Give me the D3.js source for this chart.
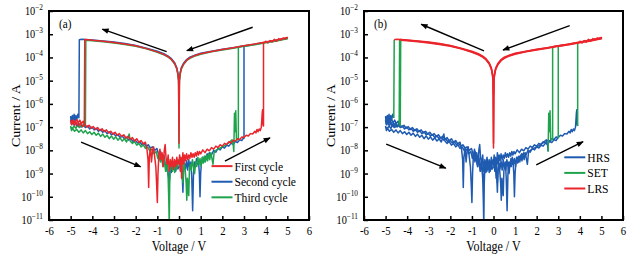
<!DOCTYPE html>
<html><head><meta charset="utf-8">
<script src="https://cdn.jsdelivr.net/npm/d3@7"></script>
<style>body{margin:0;background:#fff} text{font-family:"Liberation Serif","Times New Roman",serif}</style>
</head><body>
<svg id="c" width="638" height="256"></svg>
<script>
// ---------- data ----------
const xTicks = [-6,-5,-4,-3,-2,-1,0,1,2,3,4,5,6];
const yTickExponents = [-2,-3,-4,-5,-6,-7,-8,-9,-10,-11];
const cycleNames = ["First cycle","Second cycle","Third cycle"];
const stateNames = ["HRS","SET","LRS"];
const panelLabels = ["(a)","(b)"];

// pairs: [voltage V, log10(current / A)]
const c1HrsPos = [[0.0,-8.5],[0.03,-8.2],[0.06,-8.9],[0.09,-8.3],[0.12,-9.2],[0.15,-8.5],[0.18,-8.1],[0.22,-8.6],[0.26,-8.2],[0.3,-8.45],[0.35,-8.15],[0.4,-8.4],[0.45,-8.2],[0.5,-8.35],[0.55,-8.1],[0.6,-8.3],[0.65,-8.15],[0.7,-8.3],[0.75,-8.1],[0.8,-8.25],[0.85,-8.05],[0.9,-8.2],[0.95,-8.05],[1.0,-8.15],[1.1,-7.98],[1.2,-8.1],[1.3,-7.95],[1.4,-8.02],[1.5,-7.88],[1.6,-7.95],[1.7,-7.82],[1.8,-7.88],[1.9,-7.76],[2.0,-7.82],[2.1,-7.7],[2.2,-7.75],[2.3,-7.63],[2.4,-7.68],[2.5,-7.57],[2.6,-7.6],[2.7,-7.5],[2.8,-7.53],[2.9,-7.43],[3.0,-7.45],[3.1,-7.35],[3.2,-7.38],[3.3,-7.28],[3.4,-7.3],[3.5,-7.18],[3.55,-7.25],[3.6,-7.1],[3.65,-7.2],[3.7,-7.08],[3.75,-7.15],[3.8,-7.0],[3.84,-6.4],[3.86,-6.25],[3.88,-6.9],[3.9,-6.95]];
const c1Set = [[3.9,-6.95],[3.9,-3.39]];
const c1Lrs = [[3.9,-3.39],[4.0,-3.3],[4.1,-3.38],[4.2,-3.27],[4.3,-3.34],[4.4,-3.22],[4.5,-3.3],[4.6,-3.19],[4.7,-3.25],[4.8,-3.16],[4.9,-3.21],[5.0,-3.14],[4.5,-3.25],[4.0,-3.33],[3.5,-3.42],[3.0,-3.5],[2.5,-3.58],[2.0,-3.66],[1.5,-3.74],[1.0,-3.84],[0.7,-3.93],[0.5,-4.02],[0.35,-4.12],[0.2,-4.3],[0.1,-4.5],[0.05,-4.72],[0.02,-4.98],[0.0,-7.7],[-0.02,-4.98],[-0.05,-4.72],[-0.1,-4.48],[-0.2,-4.26],[-0.35,-4.08],[-0.5,-3.97],[-0.7,-3.87],[-1.0,-3.76],[-1.5,-3.62],[-2.0,-3.5],[-2.5,-3.42],[-3.0,-3.36],[-3.5,-3.3],[-4.0,-3.26],[-4.2,-3.24],[-4.35,-3.23]];
const c1Reset = [[-4.35,-3.23],[-4.37,-6.9]];
const c1HrsNeg = [[-4.37,-6.9],[-4.42,-6.75],[-4.5,-6.85],[-4.58,-6.7],[-4.65,-6.82],[-4.72,-6.68],[-4.8,-6.8],[-4.88,-6.7],[-4.95,-6.78],[-5.0,-6.72],[-4.96,-6.9],[-4.9,-6.78],[-4.82,-6.92],[-4.75,-6.8],[-4.65,-6.95],[-4.55,-6.83],[-4.45,-6.98],[-4.35,-6.88],[-4.25,-7.0],[-4.15,-6.92],[-4.05,-7.05],[-3.95,-6.98],[-3.85,-7.1],[-3.75,-7.02],[-3.65,-7.15],[-3.55,-7.07],[-3.45,-7.2],[-3.35,-7.12],[-3.25,-7.25],[-3.15,-7.18],[-3.05,-7.3],[-2.95,-7.22],[-2.85,-7.35],[-2.75,-7.28],[-2.65,-7.4],[-2.55,-7.33],[-2.45,-7.47],[-2.35,-7.4],[-2.25,-7.52],[-2.15,-7.45],[-2.05,-7.6],[-1.95,-7.5],[-1.85,-7.66],[-1.75,-7.58],[-1.65,-7.72],[-1.55,-7.65],[-1.48,-7.95],[-1.43,-8.4],[-1.4,-9.6],[-1.37,-8.3],[-1.32,-7.9],[-1.27,-8.5],[-1.22,-8.0],[-1.17,-7.85],[-1.12,-8.3],[-1.07,-8.7],[-1.03,-9.5],[-1.0,-10.25],[-0.97,-9.0],[-0.93,-8.2],[-0.88,-7.95],[-0.83,-8.4],[-0.78,-8.1],[-0.73,-8.7],[-0.68,-8.0],[-0.64,-7.75],[-0.6,-8.3],[-0.55,-8.6],[-0.5,-8.2],[-0.45,-8.9],[-0.4,-8.4],[-0.35,-8.7],[-0.3,-8.3],[-0.25,-8.8],[-0.2,-8.4],[-0.15,-8.7],[-0.1,-8.3],[-0.05,-8.6],[0.0,-8.5]];

const c2HrsPos = [[0.0,-8.7],[0.04,-8.45],[0.08,-8.9],[0.12,-8.6],[0.15,-9.1],[0.18,-9.8],[0.21,-8.9],[0.25,-8.55],[0.3,-8.8],[0.35,-8.45],[0.4,-8.85],[0.45,-8.4],[0.5,-8.75],[0.55,-8.5],[0.59,-9.2],[0.63,-10.6],[0.67,-9.0],[0.71,-8.5],[0.76,-8.7],[0.81,-8.35],[0.86,-8.6],[0.9,-8.45],[0.94,-9.0],[0.97,-10.0],[1.0,-9.0],[1.04,-8.5],[1.1,-8.3],[1.15,-8.5],[1.2,-8.25],[1.25,-8.4],[1.3,-8.15],[1.35,-8.3],[1.4,-8.1],[1.5,-8.2],[1.6,-8.0],[1.7,-8.08],[1.8,-7.92],[1.9,-7.98],[2.0,-7.85],[2.1,-7.9],[2.2,-7.78],[2.3,-7.82],[2.4,-7.7],[2.5,-7.74],[2.6,-7.62],[2.7,-7.66],[2.8,-7.55],[2.9,-7.58],[2.95,-7.5],[3.0,-7.48]];
const c2Set = [[3.0,-7.48],[3.0,-3.52]];
const c2Lrs = [[3.0,-3.52],[3.3,-3.47],[3.6,-3.41],[4.0,-3.34],[4.4,-3.27],[4.7,-3.22],[5.0,-3.17],[4.5,-3.26],[4.0,-3.35],[3.5,-3.43],[3.0,-3.51],[2.5,-3.58],[2.0,-3.65],[1.5,-3.73],[1.0,-3.82],[0.7,-3.91],[0.5,-3.99],[0.35,-4.09],[0.2,-4.26],[0.1,-4.46],[0.05,-4.68],[0.02,-4.95],[0.0,-5.6],[-0.02,-4.95],[-0.05,-4.68],[-0.1,-4.45],[-0.2,-4.23],[-0.35,-4.05],[-0.5,-3.94],[-0.7,-3.84],[-1.0,-3.73],[-1.5,-3.6],[-2.0,-3.49],[-2.5,-3.4],[-3.0,-3.34],[-3.5,-3.29],[-4.0,-3.25],[-4.3,-3.23],[-4.5,-3.22],[-4.6,-3.24]];
const c2Reset = [[-4.6,-3.24],[-4.62,-6.6]];
const c2HrsNeg = [[-4.62,-6.6],[-4.67,-6.45],[-4.72,-6.7],[-4.76,-6.5],[-4.8,-6.75],[-4.84,-6.45],[-4.88,-6.68],[-4.92,-6.5],[-4.96,-6.7],[-5.0,-6.55],[-4.97,-6.85],[-4.93,-6.65],[-4.88,-6.9],[-4.8,-6.75],[-4.72,-6.95],[-4.62,-6.85],[-4.52,-7.0],[-4.42,-6.9],[-4.32,-7.02],[-4.22,-6.95],[-4.12,-7.08],[-4.02,-7.0],[-3.92,-7.12],[-3.82,-7.05],[-3.72,-7.18],[-3.62,-7.1],[-3.52,-7.22],[-3.42,-7.15],[-3.32,-7.28],[-3.22,-7.2],[-3.12,-7.33],[-3.02,-7.27],[-2.92,-7.38],[-2.82,-7.32],[-2.72,-7.45],[-2.62,-7.38],[-2.52,-7.5],[-2.42,-7.44],[-2.32,-7.56],[-2.22,-7.5],[-2.12,-7.62],[-2.02,-7.56],[-1.92,-7.68],[-1.82,-7.62],[-1.72,-7.75],[-1.62,-7.7],[-1.52,-7.82],[-1.42,-7.76],[-1.32,-7.9],[-1.22,-7.85],[-1.12,-8.0],[-1.02,-7.92],[-0.95,-8.15],[-0.9,-8.4],[-0.85,-8.05],[-0.8,-8.3],[-0.75,-8.6],[-0.7,-8.2],[-0.65,-8.5],[-0.6,-8.9],[-0.55,-8.4],[-0.5,-9.0],[-0.45,-9.35],[-0.4,-8.7],[-0.35,-8.95],[-0.3,-8.5],[-0.25,-8.8],[-0.2,-8.45],[-0.15,-8.9],[-0.1,-8.6],[-0.05,-8.8],[0.0,-8.7]];

const c3HrsPos = [[0.0,-8.4],[0.04,-8.7],[0.08,-8.45],[0.12,-8.95],[0.15,-9.1],[0.18,-9.4],[0.21,-8.8],[0.25,-8.55],[0.29,-8.9],[0.33,-9.4],[0.36,-10.15],[0.39,-9.2],[0.42,-9.7],[0.45,-9.95],[0.48,-8.9],[0.52,-8.6],[0.57,-8.85],[0.62,-8.4],[0.67,-8.7],[0.72,-9.0],[0.77,-8.5],[0.82,-8.7],[0.87,-8.3],[0.92,-8.6],[0.97,-8.35],[1.02,-8.7],[1.07,-8.3],[1.12,-8.55],[1.17,-8.25],[1.22,-8.5],[1.27,-8.2],[1.32,-8.45],[1.37,-8.15],[1.42,-8.4],[1.47,-8.1],[1.52,-8.35],[1.57,-8.6],[1.62,-8.1],[1.7,-8.0],[1.8,-7.95],[1.9,-7.9],[2.0,-7.84],[2.1,-7.8],[2.2,-7.74],[2.3,-7.68],[2.38,-7.6],[2.45,-7.55],[2.5,-7.75],[2.53,-8.05]];
const c3Set = [[2.53,-8.05],[2.56,-6.4],[2.58,-7.2],[2.62,-6.3],[2.65,-7.5],[2.7,-7.55],[2.74,-7.5],[2.74,-3.54]];
const c3Lrs = [[2.74,-3.54],[3.0,-3.5],[3.5,-3.44],[4.0,-3.36],[4.5,-3.28],[4.8,-3.23],[5.0,-3.2],[4.5,-3.29],[4.0,-3.37],[3.5,-3.45],[3.0,-3.52],[2.5,-3.6],[2.0,-3.68],[1.5,-3.76],[1.0,-3.86],[0.7,-3.95],[0.5,-4.04],[0.35,-4.14],[0.2,-4.32],[0.1,-4.52],[0.05,-4.75],[0.02,-5.0],[0.0,-7.9],[-0.02,-5.0],[-0.05,-4.75],[-0.1,-4.5],[-0.2,-4.28],[-0.35,-4.1],[-0.5,-3.99],[-0.7,-3.89],[-1.0,-3.78],[-1.5,-3.63],[-2.0,-3.52],[-2.5,-3.44],[-3.0,-3.38],[-3.5,-3.32],[-4.0,-3.28],[-4.3,-3.26]];
const c3Reset = [[-4.3,-3.26],[-4.32,-6.95]];
const c3HrsNeg = [[-4.32,-6.95],[-4.38,-6.85],[-4.45,-6.98],[-4.52,-6.9],[-4.6,-7.02],[-4.68,-6.92],[-4.76,-7.05],[-4.84,-6.95],[-4.92,-7.06],[-5.0,-6.98],[-4.96,-7.15],[-4.9,-7.05],[-4.82,-7.18],[-4.72,-7.1],[-4.62,-7.22],[-4.52,-7.12],[-4.42,-7.25],[-4.32,-7.15],[-4.22,-7.28],[-4.12,-7.2],[-4.02,-7.32],[-3.92,-7.22],[-3.82,-7.35],[-3.72,-7.26],[-3.62,-7.4],[-3.52,-7.3],[-3.42,-7.44],[-3.32,-7.35],[-3.22,-7.5],[-3.12,-7.38],[-3.02,-7.52],[-2.92,-7.42],[-2.82,-7.56],[-2.72,-7.46],[-2.62,-7.6],[-2.52,-7.5],[-2.42,-7.64],[-2.35,-7.45],[-2.3,-7.3],[-2.25,-7.6],[-2.15,-7.7],[-2.05,-7.62],[-1.95,-7.78],[-1.85,-7.7],[-1.75,-7.85],[-1.65,-7.76],[-1.55,-7.92],[-1.45,-7.85],[-1.35,-8.02],[-1.25,-7.95],[-1.15,-8.15],[-1.05,-8.05],[-0.98,-8.35],[-0.92,-8.15],[-0.86,-8.5],[-0.8,-8.25],[-0.74,-8.7],[-0.68,-8.35],[-0.62,-8.9],[-0.56,-8.5],[-0.5,-9.2],[-0.47,-10.2],[-0.45,-11.3],[-0.43,-9.5],[-0.4,-8.7],[-0.35,-8.5],[-0.3,-8.9],[-0.25,-8.55],[-0.2,-8.95],[-0.15,-8.5],[-0.1,-8.8],[-0.05,-8.45],[0.0,-8.4]];

// arrows: [V1, logI1, V2, logI2] (head at second point)
const arrowsA = [[-0.57,-3.75,-3.54,-2.78],[3.40,-2.70,0.36,-3.71],[-4.52,-7.65,-1.77,-8.71],[2.12,-8.46,4.20,-7.46]];
const arrowsB = [[-0.44,-3.72,-3.35,-2.57],[3.53,-2.63,0.44,-3.68],[-4.97,-7.73,-2.21,-8.77],[1.98,-8.63,4.15,-7.63]];

// ---------- style ----------
const RED="#ea252b", BLUE="#1f5bb0", GREEN="#1fa34c";
const cycleColors=[RED,BLUE,GREEN];
const FONT="'Liberation Serif','Times New Roman',serif";
const SX=0.86;

const cycles=[
 {hrsPos:c1HrsPos,set:c1Set,lrs:c1Lrs,reset:c1Reset,hrsNeg:c1HrsNeg},
 {hrsPos:c2HrsPos,set:c2Set,lrs:c2Lrs,reset:c2Reset,hrsNeg:c2HrsNeg},
 {hrsPos:c3HrsPos,set:c3Set,lrs:c3Lrs,reset:c3Reset,hrsNeg:c3HrsNeg}
];

const svg=d3.select("#c");
svg.append("rect").attr("width",638).attr("height",256).attr("fill","#fff");
const defs=svg.append("defs");
defs.append("marker").attr("id","ah").attr("viewBox","0 0 10 10").attr("refX",9).attr("refY",5)
 .attr("markerUnits","userSpaceOnUse").attr("markerWidth",9).attr("markerHeight",7).attr("orient","auto")
 .append("path").attr("d","M0,1 L10,5 L0,9 Z").attr("fill","#000");

const y=d3.scaleLog().domain([1e-11,1e-2]).range([220,11]);

function txt(g,x,yy,str,size,anchor,rot){
  const sc = rot ? `rotate(${rot}) scale(1,${SX})` : `scale(${SX},1)`;
  const t=g.append("text").attr("transform",`translate(${x},${yy}) ${sc}`)
   .style("font-family",FONT).attr("font-size",size).attr("text-anchor",anchor||"start").attr("fill","#000");
  if(str!==null) t.text(str);
  return t;
}

function panel(idx,x0,x1){
  const x=d3.scaleLinear().domain([-6,6]).range([x0,x1]);
  const g=svg.append("g");
  const cid="clip"+idx;
  defs.append("clipPath").attr("id",cid).append("rect").attr("x",x0).attr("y",11).attr("width",x1-x0).attr("height",209);
  const line=d3.line().x(d=>x(d[0])).y(d=>y(Math.pow(10,d[1])));
  const dg=g.append("g").attr("clip-path",`url(#${cid})`).attr("fill","none").attr("stroke-width",1.5).attr("stroke-linejoin","round");
  if(idx===0){
    [1,2,0].forEach(ci=>{
      const c=cycles[ci];
      const pts=[].concat(c.hrsPos,c.set,c.lrs,c.reset,c.hrsNeg);
      dg.append("path").attr("d",line(pts)).attr("stroke",cycleColors[ci]);
    });
  } else {
    cycles.forEach(c=>{[c.hrsPos,c.hrsNeg].forEach(s=>dg.append("path").attr("d",line(s)).attr("stroke",BLUE));});
    cycles.forEach(c=>{[c.set,c.reset].forEach(s=>dg.append("path").attr("d",line(s)).attr("stroke",GREEN));});
    cycles.forEach(c=>{dg.append("path").attr("d",line(c.lrs)).attr("stroke",RED);});
  }
  // axes
  const ax=g.append("g").attr("transform","translate(0,220)")
    .call(d3.axisBottom(x).tickValues(xTicks).tickSize(-4).tickPadding(6.5).tickFormat(d=>String(d)));
  ax.attr("font-family",null);
  ax.select(".domain").remove();
  ax.selectAll("line").attr("stroke","#000").attr("stroke-width",1.5);
  ax.selectAll("text").style("font-family",FONT).attr("font-size",12.5).attr("fill","#000").attr("transform",`scale(${SX},1)`);
  const ay=g.append("g").attr("transform",`translate(${x0},0)`)
    .call(d3.axisLeft(y).tickValues(yTickExponents.map(e=>Math.pow(10,e))).tickSize(-4).tickFormat(""));
  ay.select(".domain").remove();
  ay.selectAll("line").attr("stroke","#000").attr("stroke-width",1.5);
  yTickExponents.forEach(e=>{
    const t=txt(g,x0-6,y(Math.pow(10,e))+4,null,12,"end");
    t.append("tspan").text("10");
    t.append("tspan").attr("font-size",8.5).attr("dy",-5).text("\u2212"+Math.abs(e));
  });
  // frame
  g.append("rect").attr("x",x0).attr("y",11).attr("width",x1-x0).attr("height",209)
   .attr("fill","none").attr("stroke","#000").attr("stroke-width",2);
  // titles
  txt(g,(x0+x1)/2,250.5,"Voltage / V",14,"middle");
  txt(g,x0-29,115.5,"Current / A",14,"middle",-90);
  txt(g,x0+10,28,panelLabels[idx],13,"start");
  // arrows
  const arr= idx===0?arrowsA:arrowsB;
  arr.forEach(a=>{
    g.append("line").attr("x1",x(a[0])).attr("y1",y(Math.pow(10,a[1]))).attr("x2",x(a[2])).attr("y2",y(Math.pow(10,a[3])))
     .attr("stroke","#000").attr("stroke-width",1.4).attr("marker-end","url(#ah)");
  });
  // legend
  const names= idx===0?cycleNames:stateNames;
  const cols= idx===0?cycleColors:[BLUE,GREEN,RED];
  const lx= idx===0?x(1.5):x(3.28);
  const ly0= idx===0?y(Math.pow(10,-8.68)):y(Math.pow(10,-8.3));
  names.forEach((n,i)=>{
    const yy=ly0+i*15.6;
    g.append("line").attr("x1",lx).attr("x2",lx+21).attr("y1",yy).attr("y2",yy).attr("stroke",cols[i]).attr("stroke-width",2);
    txt(g,lx+23,yy+4.5,n,13.5,"start");
  });
}
panel(0,49,309);
panel(1,364,623);
</script>
</body></html>
